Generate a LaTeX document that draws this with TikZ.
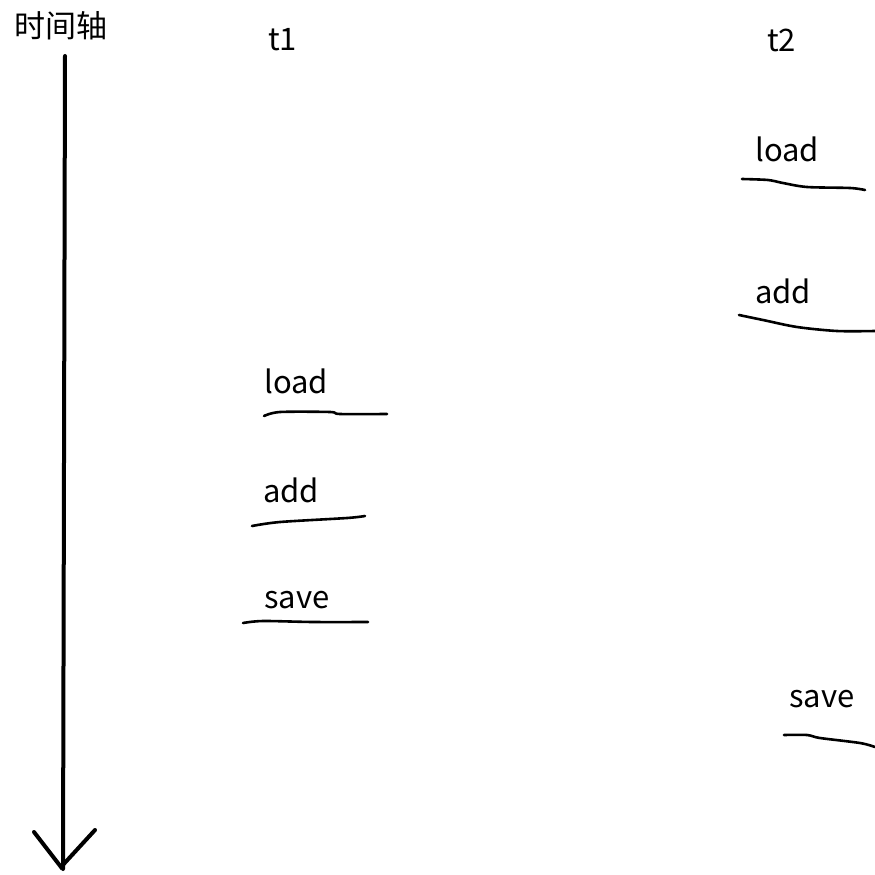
\documentclass[tikz,border=0pt]{standalone}
\usepackage{fontspec}
\setmainfont{Noto Sans CJK SC}
\begin{document}
\begin{tikzpicture}[x=1pt,y=-1pt,
  lbl/.style={anchor=west,inner sep=0pt,font=\fontsize{31}{36}\selectfont},
  ul/.style={line width=2.6pt,line cap=round,line join=round},
  axisline/.style={line width=4pt,line cap=round}]
\useasboundingbox[fill=white] (0,0) rectangle (875,875);
% time axis
\node[lbl] (tl) at (14,26) {时间轴};
\coordinate (atop) at (65,56);
\coordinate (abot) at (63,869);
\coordinate (hl) at (34,832);
\coordinate (hr) at (95,830);
\draw[axisline] (atop) -- (abot);
\draw[axisline] (hl) -- (61,867) -- (hr);
% thread labels
\node[lbl] (t1) at (268,40) {t1};
\node[lbl] (t2) at (767,40) {t2};
% t1 operations
\node[lbl] (l1) at (264,381) {load};
\node[lbl] (a1) at (263,490) {add};
\node[lbl] (s1) at (264,600) {save};
% t2 operations
\node[lbl] (l2) at (755,149) {load};
\node[lbl] (a2) at (755,291) {add};
\node[lbl] (s2) at (789,699) {save};
% underlines
\draw[ul] plot[smooth,tension=0.5] coordinates {(264,416) (280,412) (330,412) (340,414) (387,414)};
\draw[ul] plot[smooth,tension=0.5] coordinates {(252,526) (280,522) (347,518) (365,516)};
\draw[ul] plot[smooth,tension=0.5] coordinates {(243,623) (263,621) (313,622) (368,622)};
\draw[ul] plot[smooth,tension=0.5] coordinates {(742,179) (768,180) (783,183) (807,187) (850,188) (865,190)};
\draw[ul] plot[smooth,tension=0.5] coordinates {(739,315) (763,320) (797,327) (837,331) (875,331)};
\draw[ul] plot[smooth,tension=0.5] coordinates {(784,735) (807,735) (820,738) (860,743) (875,747)};
\end{tikzpicture}
\end{document}
